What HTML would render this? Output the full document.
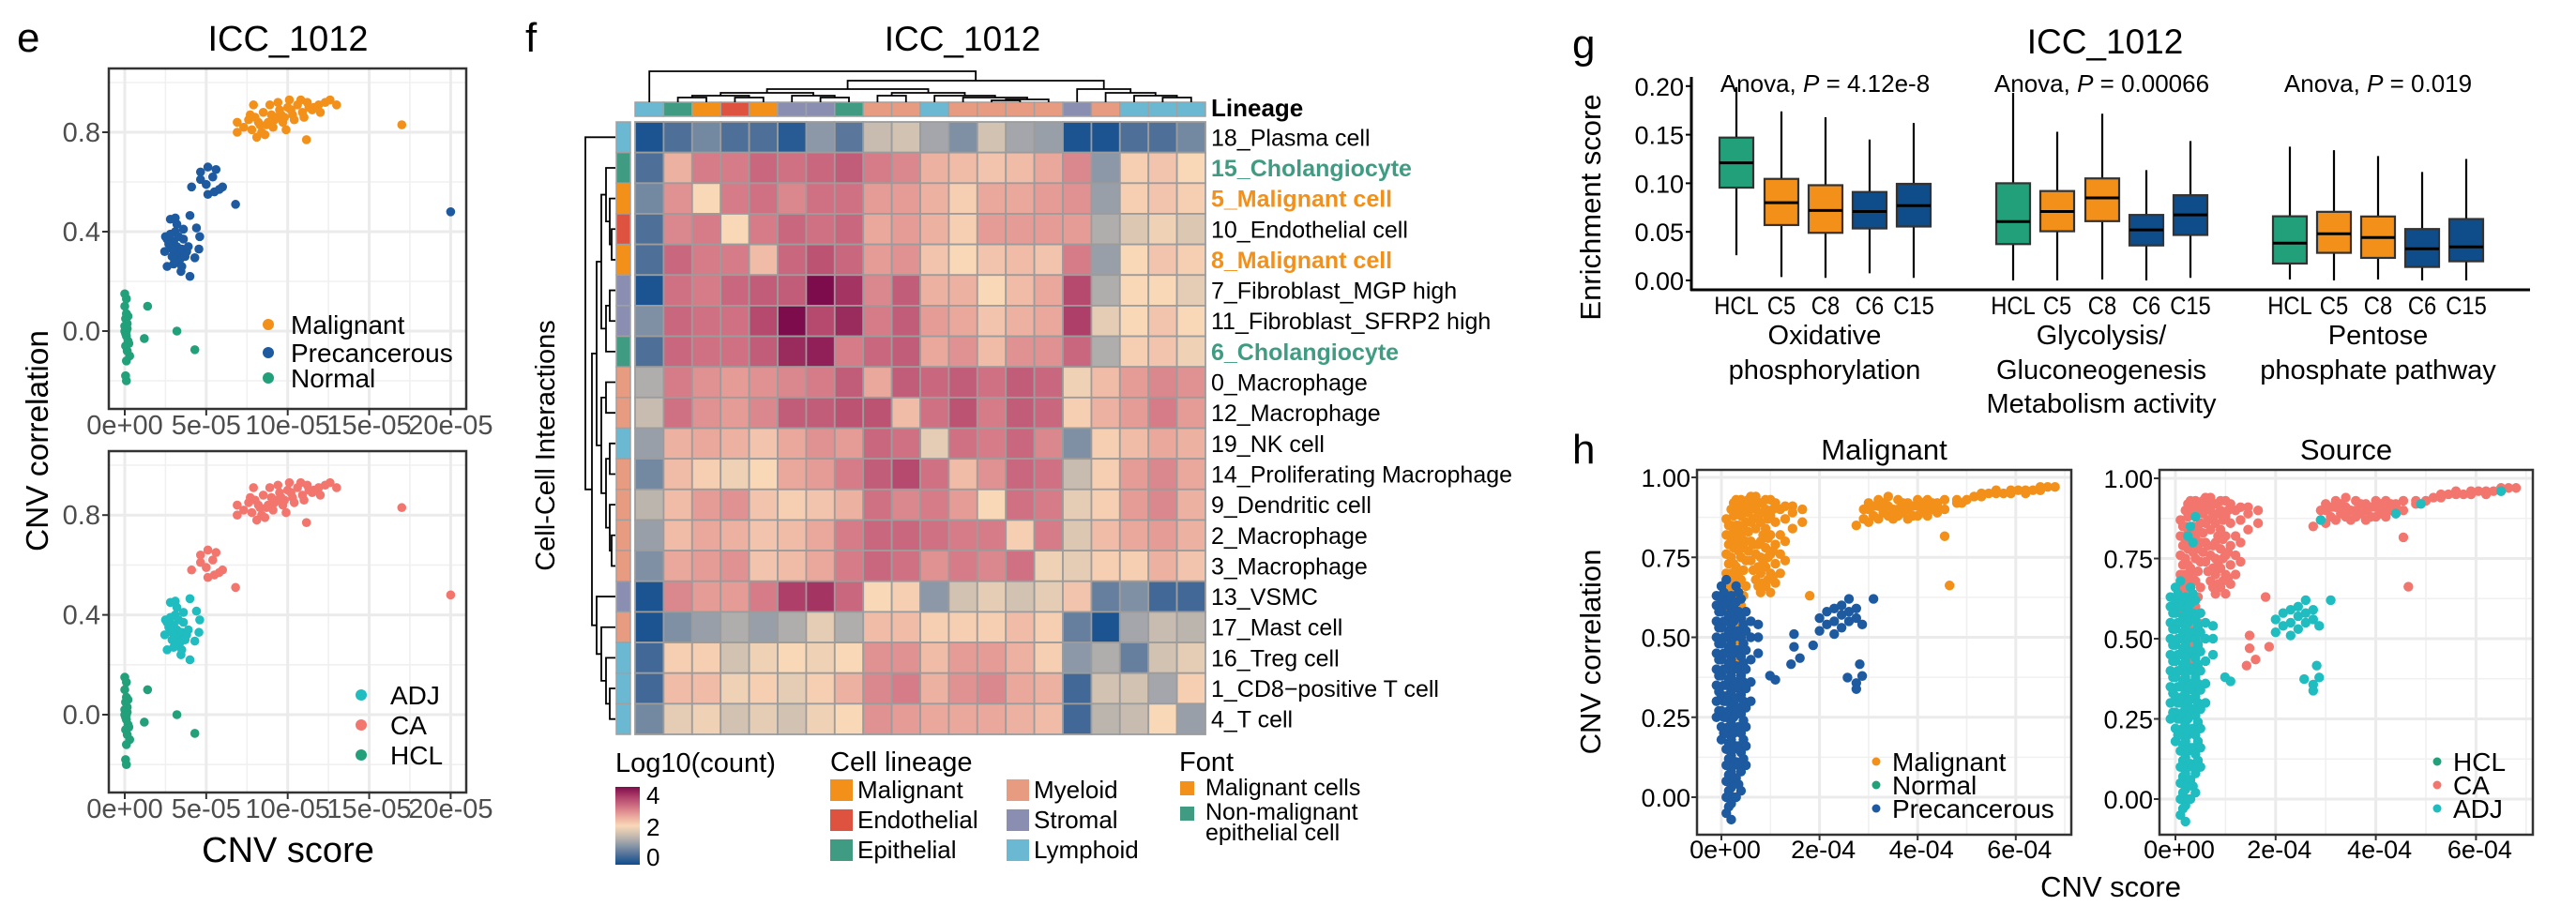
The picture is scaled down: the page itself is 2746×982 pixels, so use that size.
<!DOCTYPE html>
<html><head><meta charset="utf-8"><style>
html,body{margin:0;padding:0;background:#fff;}
svg{display:block;font-family:"Liberation Sans",Arial,sans-serif;}
</style></head><body>
<svg id="fig" width="2746" height="982" viewBox="0 0 2746 982" xmlns="http://www.w3.org/2000/svg">
<text x="18" y="55" font-size="44">e</text>
<text x="307" y="54" font-size="38" text-anchor="middle">ICC_1012</text>
<text x="560" y="55" font-size="44">f</text>
<text x="1026" y="54" font-size="37" text-anchor="middle">ICC_1012</text>
<text x="1676" y="62" font-size="44">g</text>
<text x="2244" y="57" font-size="37" text-anchor="middle">ICC_1012</text>
<text x="1676" y="494" font-size="44">h</text>
</svg>
<script>
// ---------- DATA: panel e (CNV score in 1e-5 units, CNV correlation) ----------
const eMalX=[6.9,6.9,7.9,13.0,17.0,11.15,8.1,7.3,7.6,7.8,8.0,8.3,8.5,8.8,9.0,9.2,9.5,9.8,10.0,10.3,10.6,10.9,11.2,11.5,11.9,12.3,12.6,8.4,9.1,9.7,10.4,11.0,8.9,9.4,10.1,10.8,11.6,7.7,8.6,9.9,8.2,9.6,10.2,11.3,12.0,8.7,9.3];
const eMalY=[0.84,0.80,0.91,0.91,0.83,0.77,0.78,0.82,0.85,0.81,0.86,0.83,0.88,0.84,0.87,0.85,0.89,0.86,0.90,0.87,0.91,0.88,0.92,0.89,0.91,0.92,0.93,0.80,0.82,0.84,0.85,0.86,0.91,0.92,0.93,0.93,0.90,0.87,0.79,0.81,0.84,0.87,0.89,0.90,0.88,0.83,0.86];
const ePreUpX=[4.65,5.1,4.1,4.65,5.0,5.1,5.5,6.0,5.8,5.4,6.8,20.0,5.6];
const ePreUpY=[0.64,0.66,0.58,0.61,0.59,0.55,0.56,0.58,0.57,0.62,0.51,0.48,0.65];
const ePreLoX=[2.45,2.6,2.5,2.8,3.1,4.0,4.4,4.6,4.55,4.3,4.0,3.45,3.2,3.0,3.3,3.5,2.9,2.7,3.6,3.8,3.1,3.4,2.8,3.0,3.7,3.2,2.6,3.9,3.5,3.3,2.9,3.6,3.1];
const ePreLoY=[0.32,0.26,0.38,0.45,0.455,0.465,0.415,0.38,0.33,0.295,0.22,0.24,0.34,0.36,0.31,0.33,0.30,0.35,0.37,0.32,0.40,0.29,0.39,0.27,0.30,0.43,0.37,0.34,0.26,0.38,0.33,0.41,0.28];
const eNorX=[0.0,0.1,0.0,0.1,0.05,0.15,0.0,0.1,0.2,0.05,0.15,0.3,0.1,0.0,0.2,0.1,0.25,0.05,0.1,1.4,1.2,3.2,4.3,0.15,0.05];
const eNorY=[0.15,0.13,0.10,0.07,0.05,0.03,0.00,-0.02,-0.04,-0.06,-0.08,-0.10,-0.12,0.02,0.06,0.00,-0.05,-0.18,-0.20,0.10,-0.03,0.00,-0.075,0.01,-0.01];
const eXTicks=[0,5,10,15,20];
const eXTickLabels=["0e+00","5e-05","10e-05","15e-05","20e-05"];
const eYTicks=[0,0.4,0.8];
const eYTickLabels=["0.0","0.4","0.8"];

// ---------- DATA: panel f heatmap ----------
const fRows=["18_Plasma cell","15_Cholangiocyte","5_Malignant cell","10_Endothelial cell","8_Malignant cell","7_Fibroblast_MGP high","11_Fibroblast_SFRP2 high","6_Cholangiocyte","0_Macrophage","12_Macrophage","19_NK cell","14_Proliferating Macrophage","9_Dendritic cell","2_Macrophage","3_Macrophage","13_VSMC","17_Mast cell","16_Treg cell","1_CD8\u2212positive T cell","4_T cell"];
const fRowLineage=["Lymphoid","Epithelial","Malignant","Endothelial","Malignant","Stromal","Stromal","Epithelial","Myeloid","Myeloid","Lymphoid","Myeloid","Myeloid","Myeloid","Myeloid","Stromal","Myeloid","Lymphoid","Lymphoid","Lymphoid"];
const fRowFont=["","non","mal","","mal","","","non","","","","","","","","","","","",""];
const fColLineage=["Lymphoid","Epithelial","Malignant","Endothelial","Malignant","Stromal","Stromal","Epithelial","Myeloid","Myeloid","Lymphoid","Myeloid","Myeloid","Myeloid","Myeloid","Stromal","Myeloid","Lymphoid","Lymphoid","Lymphoid"];
const fValues=[
[0.1,0.5,0.8,0.5,0.5,0.2,1.0,0.6,1.5,1.6,1.2,0.9,1.6,1.2,1.1,0.1,0.1,0.5,0.5,0.8],
[0.5,2.4,2.9,2.9,3.1,3.0,3.1,3.2,2.9,2.8,2.4,2.3,2.2,2.3,2.5,2.8,1.0,2.1,2.2,2.0],
[0.8,2.7,2.0,2.9,3.0,2.8,3.0,3.0,2.6,2.6,2.4,2.1,2.5,2.5,2.6,2.7,1.1,2.1,2.2,2.1],
[0.5,2.8,2.9,2.0,2.9,3.1,3.0,3.1,2.5,2.6,2.4,2.1,2.6,2.6,2.6,2.6,1.3,1.7,1.9,1.7],
[0.5,3.1,2.9,2.9,2.3,3.1,3.3,3.1,2.6,2.7,2.2,2.0,2.2,2.3,2.2,2.9,1.1,2.0,2.2,2.1],
[0.1,3.0,2.9,3.1,3.2,3.2,4.0,3.6,2.8,3.2,2.4,2.4,2.0,2.3,2.5,3.4,1.3,2.0,2.0,1.8],
[0.9,3.1,3.0,3.0,3.4,4.0,3.4,3.7,2.9,3.2,2.6,2.5,2.2,2.4,2.5,3.5,1.8,2.0,2.2,2.0],
[0.5,3.1,3.0,3.0,3.2,3.7,3.8,2.9,3.1,3.2,2.5,2.7,2.3,2.7,2.7,3.1,1.3,2.1,2.2,1.9],
[1.3,2.9,2.7,2.6,2.7,2.8,2.9,3.2,2.5,3.2,3.1,3.2,3.0,3.2,3.1,1.9,2.3,2.6,2.8,2.7],
[1.5,3.0,2.7,2.6,2.8,3.2,3.2,3.3,3.3,2.3,3.0,3.3,2.9,3.2,3.1,2.1,2.4,2.6,2.9,2.6],
[1.1,2.4,2.5,2.4,2.2,2.5,2.7,2.6,3.1,3.0,1.8,3.0,2.9,3.1,2.8,0.9,2.1,2.3,2.5,2.4],
[0.8,2.3,2.1,1.9,2.0,2.5,2.6,2.9,3.2,3.4,3.0,2.3,2.7,3.1,3.0,1.5,2.1,2.6,2.8,2.5],
[1.4,2.3,2.6,2.7,2.2,2.1,2.2,2.4,3.0,2.8,2.9,2.6,2.0,3.0,2.9,1.8,2.1,2.6,2.8,2.4],
[1.1,2.3,2.5,2.4,2.2,2.3,2.5,2.9,3.1,3.1,3.0,2.9,2.9,2.1,2.9,1.7,2.3,2.5,2.6,2.4],
[0.9,2.5,2.6,2.7,2.2,2.3,2.5,2.9,3.1,3.0,2.7,2.9,2.8,3.0,1.9,1.8,2.1,2.1,2.4,2.2],
[0.1,2.8,2.6,2.6,2.9,3.5,3.6,3.1,2.0,2.1,1.0,1.6,1.8,1.6,1.8,2.2,0.7,0.9,0.4,0.4],
[0.1,0.9,1.1,1.3,1.1,1.3,1.8,1.3,2.3,2.3,2.1,2.1,2.1,2.3,2.1,0.7,0.1,1.2,1.5,1.4],
[0.4,2.1,2.1,1.6,1.9,2.0,1.9,2.0,2.7,2.7,2.3,2.6,2.6,2.4,2.1,1.0,1.3,0.7,1.6,1.8],
[0.4,2.3,2.3,1.9,2.1,1.8,2.1,2.4,2.8,2.9,2.4,2.7,2.8,2.5,2.4,0.4,1.6,1.6,1.2,2.1],
[0.8,1.8,1.9,1.6,1.8,1.6,1.9,2.0,2.7,2.6,2.5,2.5,2.5,2.4,2.3,0.4,1.4,1.5,2.0,1.1]];
const fColTree=[0,[[[[[1,2],[3,4]],[5,[6,7]]],[[8,9],[10,[11,[[12,13],14]]]]],[15,[16,[17,[18,19]]]]]];
const fRowTree=[0,[[[[1,[2,[3,4]]],[[5,6],7]],[[8,9],[[10,11],[12,[13,14]]]]],[15,[16,[17,[18,19]]]]]];

// ---------- DATA: panel g boxplots ----------
const gGroups=["Oxidative phosphorylation","Glycolysis/Gluconeogenesis","Pentose phosphate pathway"];
const gCats=["HCL","C5","C8","C6","C15"];
const gLow=[[0.026,0.0035,0.0026,0.0074,0.0026],[0.0,0.0,0.001,0.0,0.0026],[0.001,0.0,0.001,0.0,0.0]];
const gQ1=[[0.0955,0.057,0.049,0.0535,0.0555],[0.0374,0.0506,0.061,0.036,0.0468],[0.0174,0.0284,0.0232,0.0139,0.0197]];
const gMed=[[0.121,0.080,0.072,0.071,0.077],[0.0606,0.071,0.085,0.052,0.0674],[0.0384,0.048,0.0442,0.0326,0.0345]];
const gQ3=[[0.147,0.1045,0.098,0.091,0.0994],[0.100,0.092,0.105,0.0674,0.0877],[0.066,0.0706,0.0658,0.0529,0.0632]];
const gHigh=[[0.199,0.174,0.168,0.145,0.162],[0.193,0.153,0.1716,0.1135,0.1435],[0.1377,0.134,0.128,0.1116,0.125]];
const gAnova=["4.12e-8","0.00066","0.019"];
const gYTicks=[0,0.05,0.10,0.15,0.20];
const gYTickLabels=["0.00","0.05","0.10","0.15","0.20"];

// ---------- DATA: panel h (CNV score in 1e-4 units) ----------
const hMalCols=[[0.1,[0.55,0.62,0.7,0.76,0.82,0.87]],[0.15,[0.58,0.66,0.73,0.79,0.85]],[0.2,[0.45,0.5,0.55,0.6,0.65,0.7,0.75,0.8,0.85,0.9]],[0.25,[0.47,0.52,0.57,0.62,0.68,0.73,0.78,0.83,0.88,0.92]],[0.3,[0.42,0.48,0.54,0.6,0.66,0.72,0.78,0.84,0.9,0.93]],[0.35,[0.44,0.5,0.56,0.63,0.7,0.77,0.85,0.91]],[0.4,[0.45,0.52,0.6,0.68,0.75,0.82,0.88,0.93]],[0.45,[0.48,0.55,0.63,0.71,0.78,0.84,0.9]],[0.5,[0.5,0.58,0.66,0.74,0.8,0.86,0.92]],[0.55,[0.77,0.83,0.89,0.93]],[0.6,[0.74,0.8,0.86,0.91,0.94]],[0.65,[0.71,0.79,0.87,0.92]],[0.7,[0.68,0.76,0.84,0.9,0.94]],[0.75,[0.66,0.72,0.79,0.88]],[0.8,[0.64,0.7,0.75,0.8,0.86,0.92]],[0.85,[0.67,0.73,0.82,0.89]],[0.9,[0.66,0.72,0.78,0.84,0.9,0.93]],[0.95,[0.68,0.75,0.81,0.87]],[1.0,[0.64,0.7,0.76,0.82,0.88,0.93]],[1.05,[0.69,0.77,0.9]],[1.1,[0.67,0.73,0.79,0.86,0.92]],[1.2,[0.7,0.76,0.82,0.9]],[1.3,[0.74,0.8,0.87,0.91]],[1.45,[0.84,0.89,0.91]],[1.65,[0.86,0.9]],[1.8,[0.63]],[2.75,[0.85]],[2.9,[0.87,0.9]],[3.0,[0.86,0.9,0.92]],[3.1,[0.88,0.91]],[3.2,[0.87,0.91,0.93]],[3.3,[0.89,0.92]],[3.4,[0.88,0.91,0.94]],[3.5,[0.87,0.9]],[3.6,[0.88,0.9,0.93]],[3.7,[0.89,0.92]],[3.8,[0.87,0.9,0.92]],[3.9,[0.88,0.91]],[4.0,[0.88,0.91,0.93]],[4.1,[0.89,0.92]],[4.2,[0.88,0.9,0.93]],[4.3,[0.9,0.92]],[4.4,[0.89,0.91,0.92]],[4.55,[0.816,0.9,0.93]],[4.65,[0.662]],[4.8,[0.92,0.93]],[5.0,[0.93]],[5.15,[0.94]],[5.3,[0.94,0.95]],[5.45,[0.95]],[5.6,[0.95,0.96]],[5.75,[0.95]],[5.9,[0.95,0.96]],[6.05,[0.96]],[6.2,[0.95,0.96]],[6.35,[0.96]],[6.5,[0.96,0.97]],[6.65,[0.97]],[6.8,[0.97]]];
const hPreCols=[[-0.1,[0.25,0.3,0.35,0.4,0.45,0.5,0.55,0.6,0.63]],[-0.05,[0.27,0.33,0.38,0.43,0.48,0.53,0.58]],[0.0,[0.18,0.22,0.27,0.32,0.38,0.43,0.48,0.53,0.58,0.62,0.66]],[0.05,[0.2,0.25,0.3,0.35,0.4,0.45,0.5,0.55,0.6,0.64]],[0.1,[-0.05,0.0,0.05,0.1,0.15,0.2,0.25,0.3,0.35,0.4,0.45,0.5,0.55,0.6,0.68]],[0.15,[-0.03,0.02,0.07,0.12,0.17,0.22,0.27,0.32,0.37,0.42,0.47,0.52,0.57,0.62]],[0.2,[-0.07,-0.02,0.03,0.08,0.13,0.18,0.23,0.28,0.33,0.38,0.43,0.48,0.53,0.58,0.63]],[0.25,[0.0,0.05,0.1,0.15,0.2,0.25,0.3,0.35,0.4,0.45,0.5,0.55,0.6]],[0.3,[0.0,0.06,0.11,0.16,0.21,0.26,0.31,0.36,0.41,0.46,0.51,0.56,0.61,0.66]],[0.35,[0.04,0.1,0.16,0.22,0.28,0.34,0.4,0.46,0.52,0.58,0.64]],[0.4,[0.02,0.08,0.14,0.2,0.26,0.32,0.38,0.44,0.5,0.56,0.62]],[0.45,[0.12,0.18,0.24,0.3,0.36,0.42,0.48,0.54]],[0.5,[0.1,0.16,0.22,0.28,0.34,0.4,0.46,0.52,0.58]],[0.6,[0.3,0.36,0.43,0.5,0.55]],[0.75,[0.45,0.5,0.54]],[0.99,[0.38]],[1.1,[0.367]],[2.0,[0.52,0.56]],[2.15,[0.54,0.58]],[2.3,[0.51,0.55,0.59]],[2.45,[0.53,0.57,0.6]],[2.6,[0.55,0.58,0.62]],[2.75,[0.56,0.59,0.357,0.338]],[2.57,[0.374]],[2.82,[0.416]],[2.87,[0.379,0.54]],[3.1,[0.62]]];
const hPreCAPts=[[1.48,0.51],[1.48,0.47],[1.6,0.435],[1.42,0.416],[1.87,0.475]];
const hMalAdjPts=[[0.3,0.85],[0.4,0.88],[0.35,0.8],[0.25,0.82],[2.9,0.87],[4.4,0.89],[4.9,0.92],[6.5,0.96]];
const hXTicks=[0,2,4,6];
const hXTickLabels=["0e+00","2e-04","4e-04","6e-04"];
const hYTicks=[0,0.25,0.5,0.75,1.0];
const hYTickLabels=["0.00","0.25","0.50","0.75","1.00"];

// ---------- helpers ----------
const NS='http://www.w3.org/2000/svg';
const svg=document.getElementById('fig');
function mk(tag,attrs,parent){const el=document.createElementNS(NS,tag);for(const k in attrs)el.setAttribute(k,attrs[k]);(parent||svg).appendChild(el);return el;}
function tx(str,attrs,parent){const t=mk('text',attrs,parent);t.textContent=str;return t;}
const C={mal:'#f39019',pre:'#1d5aa0',nor:'#22a07a',ca:'#f3766e',adj:'#1fbcc0',hcl:'#22a07a',c6:'#0e4c8a'};
const LIN={Malignant:'#f39019',Endothelial:'#dd5340',Epithelial:'#3f9c82',Myeloid:'#e79c82',Stromal:'#8a8fb2',Lymphoid:'#6bb8d2'};

// ---------- Panel e ----------
function eX(v){return 133+v*17.37;}
function ePanel(top,bot,y0,yScale,cols,legend,lx,ly0,name){
  const g=mk('g',{});
  
  
  const eY=v=>y0-v*yScale;
  [-0.2,0.2,0.6,1.0].forEach(v=>{const yy=eY(v);if(yy>top&&yy<bot){const l=mk('line',{x1:116,x2:497,y1:yy,y2:yy,stroke:'#f0f0f0','stroke-width':1.6},g);
    
    }});
  [2.5,7.5,12.5,17.5].forEach(v=>{const l=mk('line',{x1:eX(v),x2:eX(v),y1:top,y2:bot,stroke:'#f0f0f0','stroke-width':1.6},g);
    
    });
  eYTicks.forEach((v,i)=>{const l=mk('line',{x1:116,x2:497,y1:eY(v),y2:eY(v),stroke:'#ebebeb','stroke-width':3},g);
    
    
    const t=tx(eYTickLabels[i],{x:107,y:eY(v)+10,'font-size':29,'text-anchor':'end',fill:'#4d4d4d'},g);
    
    
    const tk=mk('line',{x1:109,x2:116,y1:eY(v),y2:eY(v),stroke:'#333','stroke-width':2},g);
    
    });
  eXTicks.forEach((v,i)=>{const l=mk('line',{x1:eX(v),x2:eX(v),y1:top,y2:bot,stroke:'#ebebeb','stroke-width':3},g);
    
    
    const tk=mk('line',{x1:eX(v),x2:eX(v),y1:bot,y2:bot+7,stroke:'#333','stroke-width':2},g);
    
    
    const t=tx(eXTickLabels[i],{x:eX(v),y:bot+27,'font-size':29,'text-anchor':'middle',fill:'#4d4d4d'},g);
    
    });
  cols.forEach(s=>{s.xs.forEach((x,i)=>{const c=mk('circle',{cx:eX(x),cy:eY(s.ys[i]),r:4.8,fill:s.color},g);
    
    });});
  const fr=mk('rect',{x:116,y:top,width:381,height:bot-top,fill:'none',stroke:'#333','stroke-width':2.5},g);
  
  
  legend.forEach((L,i)=>{const c=mk('circle',{cx:lx,cy:ly0[i],r:6,fill:L[1]},g);
    
    
    const t=tx(L[0],{x:L[2],y:ly0[i]+10,'font-size':28},g);
    
    });
}
ePanel(73,436,353,265,[
  {key:'normal',xs:eNorX,ys:eNorY,color:C.nor},
  {key:'precancerous',xs:ePreLoX,ys:ePreLoY,color:C.pre},
  {key:'precancerous',xs:ePreUpX,ys:ePreUpY,color:C.pre},
  {key:'malignant',xs:eMalX,ys:eMalY,color:C.mal}],
  [['Malignant',C.mal,310],['Precancerous',C.pre,310],['Normal',C.nor,310]],286,[346,376,403],'scatter-e-top');
ePanel(481,845,762,266,[
  {key:'hcl',xs:eNorX,ys:eNorY,color:C.hcl},
  {key:'adj',xs:ePreLoX,ys:ePreLoY,color:C.adj},
  {key:'ca',xs:ePreUpX,ys:ePreUpY,color:C.ca},
  {key:'ca',xs:eMalX,ys:eMalY,color:C.ca}],
  [['ADJ',C.adj,416],['CA',C.ca,416],['HCL',C.hcl,416]],385,[741,773,805],'scatter-e-bottom');
(function(){
 const t=tx('CNV score',{x:307,y:919,'font-size':38,'text-anchor':'middle'});
 
 
 const t2=tx('CNV correlation',{x:0,y:0,'font-size':33,'text-anchor':'middle',transform:'translate(51,470) rotate(-90)',textLength:236,lengthAdjust:'spacingAndGlyphs'});
 
 
})();

// ---------- Panel f ----------
const HX0=677,HX1=1285,HY0=130,HY1=783;
const cw=(HX1-HX0)/20,rh=(HY1-HY0)/20;
const stops=[[0,[14,77,143]],[0.5,[78,111,152]],[1,[140,152,167]],[1.5,[200,188,176]],[2,[249,216,184]],[2.5,[234,167,156]],[3,[208,113,131]],[3.5,[174,63,105]],[4,[124,12,75]]];
function hcol(v){v=Math.max(0,Math.min(4,v));for(let i=1;i<stops.length;i++){if(v<=stops[i][0]){const a=stops[i-1],b=stops[i],t=(v-a[0])/(b[0]-a[0]);return 'rgb('+[0,1,2].map(k=>Math.round(a[1][k]+(b[1][k]-a[1][k])*t)).join(',')+')';}}return 'rgb(124,12,75)';}
const fg=mk('g',{});


fValues.forEach((row,r)=>row.forEach((v,c)=>{const el=mk('rect',{x:HX0+c*cw,y:HY0+r*rh,width:cw,height:rh,fill:hcol(v),stroke:'#9c9c9c','stroke-width':1.8},fg);
  
  }));
fColLineage.forEach((L,c)=>{const el=mk('rect',{x:HX0+c*cw,y:109,width:cw,height:15,fill:LIN[L],stroke:'#a0a0a0','stroke-width':1.5});
  
  });
fRowLineage.forEach((L,r)=>{const el=mk('rect',{x:657,y:HY0+r*rh,width:15,height:rh,fill:LIN[L],stroke:'#a0a0a0','stroke-width':1.5});
  
  });
(function(){const t=tx('Lineage',{x:1291,y:124,'font-size':26,'font-weight':'bold'});
 
 })();
fRows.forEach((n,r)=>{const col=fRowFont[r]==='mal'?'#f39019':fRowFont[r]==='non'?'#3f9c82':'#000';
  const t=tx(n,{x:1291,y:HY0+(r+0.5)*rh+9,'font-size':25,fill:col,'font-weight':fRowFont[r]?'bold':'normal'});
  
  });
(function(){const t=tx('Cell-Cell Interactions',{x:0,y:0,'font-size':29,'text-anchor':'middle',transform:'translate(591,475) rotate(-90)'});
 
 })();
function drawTree(tree,fn,leafPos,leafBase,horiz){
  function rec(node,depth){
    if(typeof node==='number') return {p:leafPos(node),h:leafBase};
    const a=rec(node[0],depth+1),b=rec(node[1],depth+1);
    const hh=fn(depth);
    const pts=horiz?[[a.h,a.p],[hh,a.p],[hh,b.p],[b.h,b.p]]:[[a.p,a.h],[a.p,hh],[b.p,hh],[b.p,b.h]];
    const pl=mk('polyline',{points:pts.map(q=>q.join(',')).join(' '),fill:'none',stroke:'#000','stroke-width':1.8});
    
    
    return {p:(a.p+b.p)/2,h:hh};
  }
  rec(tree,0);
}
drawTree(fColTree,d=>[76,86,95,99,102,104,106,107][Math.min(d,7)],c=>HX0+(c+0.5)*cw,109,false);
drawTree(fRowTree,d=>[624,631,636,641,646,650,652,654][Math.min(d,7)],r=>HY0+(r+0.5)*rh,656,true);
(function(){
 const defs=mk('defs',{});
 const lg=mk('linearGradient',{id:'cb',x1:0,y1:1,x2:0,y2:0},defs);
 stops.forEach(s=>mk('stop',{offset:(s[0]/4*100)+'%','stop-color':'rgb('+s[1].join(',')+')'},lg));
 let t=tx('Log10(count)',{x:656,y:823,'font-size':29});
 
 
 const cb=mk('rect',{x:656,y:839,width:26,height:83,fill:'url(#cb)'});
 
 
 [['4',857],['2',891],['0',923]].forEach(a=>{const q=tx(a[0],{x:689,y:a[1],'font-size':26});
  
  });
 t=tx('Cell lineage',{x:885,y:822,'font-size':29});
 
 
 const items=[['Malignant',885,831],['Endothelial',885,863],['Epithelial',885,895],['Myeloid',1073,831],['Stromal',1073,863],['Lymphoid',1073,895]];
 items.forEach(it=>{const r=mk('rect',{x:it[1],y:it[2],width:24,height:23,fill:LIN[it[0]]});
  
  
  const q=tx(it[0],{x:it[1]+29,y:it[2]+20,'font-size':26});
  
  });
 t=tx('Font',{x:1257,y:822,'font-size':29});
 
 
 [[LIN.Malignant,833,'Malignant cells',848],[LIN.Epithelial,860,'Non-malignant',874]].forEach(a=>{const r=mk('rect',{x:1258,y:a[1],width:15,height:15,fill:a[0]});
  
  
  const q=tx(a[2],{x:1285,y:a[3],'font-size':25});
  
  });
 t=tx('epithelial cell',{x:1285,y:896,'font-size':25});
 
 
})();

// ---------- Panel g ----------
function gY(v){return 299-v*1036;}
const gCenters=[[1851,1899,1946,1993,2040],[2146,2193,2241,2288,2335],[2441,2488,2535,2582,2629]];
const gFill=[C.hcl,C.mal,C.mal,C.c6,C.c6];
(function(){
 let a=mk('line',{x1:1803,x2:1803,y1:82,y2:310,stroke:'#000','stroke-width':3});
 
 
 a=mk('line',{x1:1802,x2:2697,y1:309,y2:309,stroke:'#000','stroke-width':3});
 
 
 gYTicks.forEach((v,i)=>{const tk=mk('line',{x1:1797,x2:1803,y1:gY(v),y2:gY(v),stroke:'#000','stroke-width':2});
  
  
  const t=tx(gYTickLabels[i],{x:1795,y:gY(v)+10,'font-size':27,'text-anchor':'end'});
  
  });
 const t=tx('Enrichment score',{x:0,y:0,'font-size':31,'text-anchor':'middle',transform:'translate(1706,221) rotate(-90)'});
 
 
 gGroups.forEach((grp,gi)=>{
  gCats.forEach((cat,ci)=>{const x=gCenters[gi][ci];
   const w=mk('line',{x1:x,x2:x,y1:gY(gHigh[gi][ci]),y2:gY(gLow[gi][ci]),stroke:'#000','stroke-width':2.2});
   
   
   const b=mk('rect',{x:x-18,y:gY(gQ3[gi][ci]),width:36,height:gY(gQ1[gi][ci])-gY(gQ3[gi][ci]),fill:gFill[ci],stroke:'#333','stroke-width':2.2});
   
   
   const m=mk('line',{x1:x-18,x2:x+18,y1:gY(gMed[gi][ci]),y2:gY(gMed[gi][ci]),stroke:'#000','stroke-width':3});
   
   
   const l=tx(cat,{x:x,y:335,'font-size':27,'text-anchor':'middle',transform:'translate('+(x*0.12)+',0) scale(0.88,1)'});
   
   });
  const cx=(gCenters[gi][0]+gCenters[gi][4])/2;
  const an=tx('',{x:cx,y:98,'font-size':26,'text-anchor':'middle'});
  
  
  const s1=mk('tspan',{},an);s1.textContent='Anova, ';
  const s2=mk('tspan',{'font-style':'italic'},an);s2.textContent='P';
  const s3=mk('tspan',{},an);s3.textContent=' = '+gAnova[gi];
 });
 [['Oxidative',1945,367],['phosphorylation',1945,404],['Glycolysis/',2240,367],['Gluconeogenesis',2240,404],['Metabolism activity',2240,440],['Pentose',2535,367],['phosphate pathway',2535,404]].forEach(a=>{
  const q=tx(a[0],{x:a[1],y:a[2],'font-size':29,'text-anchor':'middle'});
  
  });
})();

// ---------- Panel h ----------
function hPanel(x0,x1,xz,xs,yz,ys,name,title,layers,legend,lx){
 const top=501,bot=890;
 const X=v=>xz+v*xs,Y=v=>yz-v*ys;
 const g=mk('g',{});
 
 
 [0.125,0.375,0.625,0.875].forEach(v=>{const l=mk('line',{x1:x0,x2:x1,y1:Y(v),y2:Y(v),stroke:'#f0f0f0','stroke-width':1.6},g);
  
  });
 [1,3,5,7].forEach(v=>{const l=mk('line',{x1:X(v),x2:X(v),y1:top,y2:bot,stroke:'#f0f0f0','stroke-width':1.6},g);
  
  });
 hYTicks.forEach((v,i)=>{const l=mk('line',{x1:x0,x2:x1,y1:Y(v),y2:Y(v),stroke:'#ebebeb','stroke-width':3},g);
  
  
  const tk=mk('line',{x1:x0-6,x2:x0,y1:Y(v),y2:Y(v),stroke:'#333','stroke-width':2},g);
  
  
  const t=tx(hYTickLabels[i],{x:x0-7,y:Y(v)+10,'font-size':27,'text-anchor':'end'},g);
  
  });
 hXTicks.forEach((v,i)=>{const l=mk('line',{x1:X(v),x2:X(v),y1:top,y2:bot,stroke:'#ebebeb','stroke-width':3},g);
  
  
  const tk=mk('line',{x1:X(v),x2:X(v),y1:bot,y2:bot+6,stroke:'#333','stroke-width':2},g);
  
  
  const t=tx(hXTickLabels[i],{x:X(v)+4,y:bot+25,'font-size':27,'text-anchor':'middle'},g);
  
  });
 layers.forEach(L=>{L.pts.forEach(p=>{const c=mk('circle',{cx:X(p[0]),cy:Y(p[1]),r:5.2,fill:L.color},g);
  
  });});
 const fr=mk('rect',{x:x0,y:top,width:x1-x0,height:bot-top,fill:'none',stroke:'#333','stroke-width':2.5},g);
 
 
 const tt=tx(title,{x:(x0+x1)/2,y:490,'font-size':31,'text-anchor':'middle'},g);
 
 
 legend.forEach((L,i)=>{const y=[812,837,862][i];
  const c=mk('circle',{cx:lx,cy:y,r:4.5,fill:L[1]},g);
  
  
  const t=tx(L[0],{x:lx+17,y:y+10,'font-size':28},g);
  
  });
}
function expand(cols){const o=[];cols.forEach(c=>c[1].forEach(y=>o.push([c[0],y])));return o;}
const malPts=expand(hMalCols).concat(hMalAdjPts);
const prePts=expand(hPreCols);
hPanel(1809,2208,1835,52.3,850,341,'scatter-h-malignant','Malignant',
 [{key:'malignant',color:C.mal,pts:malPts},{key:'precancerous',color:C.pre,pts:prePts.concat(hPreCAPts)}],
 [['Malignant',C.mal],['Normal',C.nor],['Precancerous',C.pre]],2000);
hPanel(2302,2700,2319,53.4,852,342,'scatter-h-source','Source',
 [{key:'ca',color:C.ca,pts:expand(hMalCols).concat(hPreCAPts)},{key:'adj',color:C.adj,pts:prePts.concat(hMalAdjPts)}],
 [['HCL',C.hcl],['CA',C.ca],['ADJ',C.adj]],2598);
(function(){
 const t=tx('CNV score',{x:2250,y:956,'font-size':31,'text-anchor':'middle'});
 
 
 const t2=tx('CNV correlation',{x:0,y:0,'font-size':31,'text-anchor':'middle',transform:'translate(1706,695) rotate(-90)'});
 
 
})();
</script>
</body></html>
